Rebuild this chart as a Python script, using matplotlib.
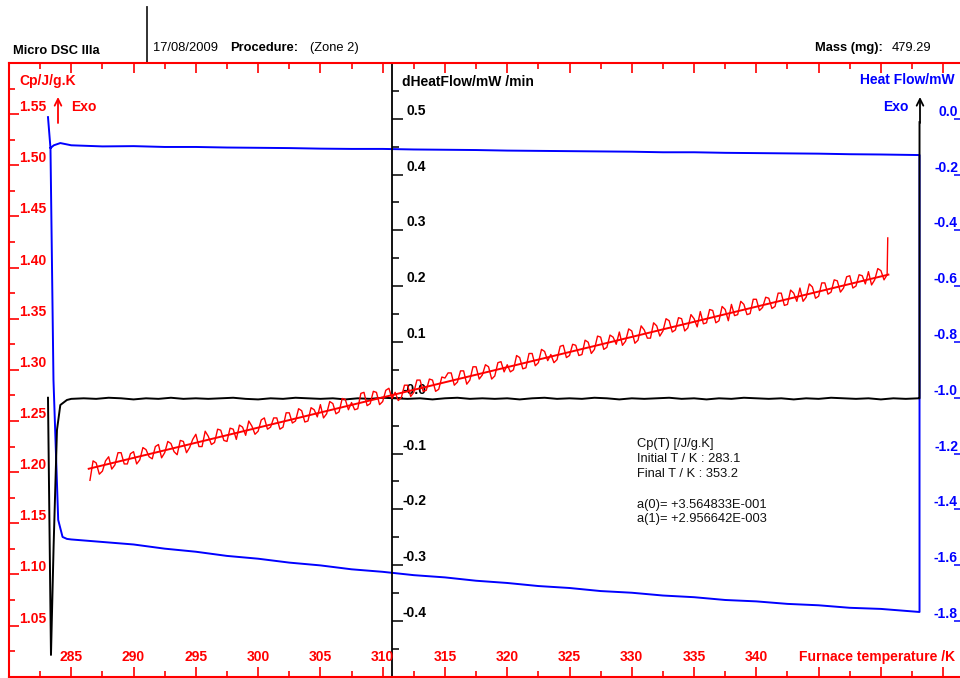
import matplotlib.pyplot as plt
import numpy as np
from matplotlib.lines import Line2D
from matplotlib.ticker import MultipleLocator

plt.rcParams['font.family'] = ['Liberation Sans', 'DejaVu Sans']

RED = '#ff0000'
BLUE = '#0000ff'

# axis ticks and labels
temp_ticks = [285, 290, 295, 300, 305, 310, 315, 320, 325, 330, 335, 340]
cp_ticks = [1.05, 1.10, 1.15, 1.20, 1.25, 1.30, 1.35, 1.40, 1.45, 1.50, 1.55]
dhf_ticks = [-0.4, -0.3, -0.2, -0.1, 0.0, 0.1, 0.2, 0.3, 0.4, 0.5]
dhf_labels = ['-0.4', '-0.3', '-0.2', '-0.1', '-0.0', '0.1', '0.2', '0.3', '0.4', '0.5']
hf_ticks = [-1.8, -1.6, -1.4, -1.2, -1.0, -0.8, -0.6, -0.4, -0.2, 0.0]
hf_labels = ['-1.8', '-1.6', '-1.4', '-1.2', '-1.0', '-0.8', '-0.6', '-0.4', '-0.2', '0.0']

# Cp data (red), one point every 0.25 K from 286.5 to 350.5 K
cp_temp = np.arange(286.5, 350.6, 0.25)
# values at 286.5, 287.0, 287.5 ...
cp_whole = [
    1.192, 1.209, 1.201, 1.215, 1.207, 1.219, 1.208, 1.220, 1.212, 1.222,
    1.213, 1.227, 1.219, 1.228, 1.217, 1.230, 1.224, 1.237, 1.225, 1.235,
    1.229, 1.241, 1.230, 1.242, 1.246, 1.236, 1.245, 1.240, 1.253, 1.244,
    1.253, 1.244, 1.258, 1.250, 1.260, 1.250, 1.261, 1.266, 1.257, 1.267,
    1.259, 1.271, 1.268, 1.262, 1.278, 1.267, 1.278, 1.269, 1.282, 1.278,
    1.273, 1.285, 1.278, 1.290, 1.280, 1.290, 1.281, 1.292, 1.297, 1.288,
    1.299, 1.290, 1.303, 1.295, 1.303, 1.294, 1.308, 1.305, 1.300, 1.312,
    1.302, 1.316, 1.307, 1.318, 1.315, 1.310, 1.324, 1.314, 1.324, 1.315,
    1.327, 1.320, 1.332, 1.322, 1.332, 1.337, 1.328, 1.338, 1.329, 1.339,
    1.331, 1.343, 1.338, 1.348, 1.339, 1.350, 1.341, 1.350, 1.357, 1.346,
    1.358, 1.348, 1.359, 1.364, 1.354, 1.364, 1.355, 1.369, 1.361, 1.370,
    1.362, 1.375, 1.364, 1.375, 1.380, 1.371, 1.381, 1.372, 1.385, 1.376,
    1.387, 1.380, 1.392, 1.382, 1.392, 1.396, 1.388, 1.397, 1.393,
]
# values at 286.75, 287.25, 287.75 ...
cp_half = [
    1.211, 1.198, 1.211, 1.203, 1.219, 1.208, 1.218, 1.208, 1.224, 1.215,
    1.225, 1.214, 1.230, 1.220, 1.231, 1.219, 1.232, 1.225, 1.240, 1.227,
    1.242, 1.231, 1.243, 1.232, 1.244, 1.250, 1.237, 1.251, 1.242, 1.253,
    1.242, 1.258, 1.248, 1.262, 1.249, 1.263, 1.254, 1.253, 1.269, 1.257,
    1.272, 1.261, 1.261, 1.277, 1.265, 1.279, 1.266, 1.280, 1.272, 1.270,
    1.285, 1.274, 1.290, 1.279, 1.291, 1.279, 1.293, 1.297, 1.285, 1.299,
    1.286, 1.303, 1.291, 1.305, 1.291, 1.307, 1.298, 1.298, 1.314, 1.301,
    1.316, 1.304, 1.320, 1.309, 1.307, 1.323, 1.312, 1.325, 1.314, 1.329,
    1.316, 1.333, 1.320, 1.334, 1.325, 1.324, 1.340, 1.326, 1.343, 1.331,
    1.346, 1.333, 1.350, 1.337, 1.351, 1.338, 1.354, 1.342, 1.345, 1.359,
    1.346, 1.362, 1.348, 1.353, 1.367, 1.354, 1.369, 1.358, 1.371, 1.360,
    1.375, 1.363, 1.378, 1.367, 1.367, 1.384, 1.370, 1.385, 1.374, 1.388,
    1.376, 1.391, 1.380, 1.393, 1.384, 1.383, 1.399, 1.388,
]
cp_end_temp = [350.5, 350.55]
cp_end_values = [1.393, 1.429]

# linear fit of Cp
fit_temp = [286.4, 350.6]
fit_cp = [1.2033, 1.3931]

# dHeatFlow data (black)
dhf_start_temp = [283.13, 283.37, 283.58, 283.85, 284.12, 284.65]
dhf_start = [0.000, -0.461, -0.267, -0.058, -0.013, -0.004]
dhf_flat_temp = np.arange(285, 354, 1)
dhf_flat = [
    -0.002, -0.001, -0.002, 0.000, -0.001, -0.003, -0.001, -0.002, 0.000, -0.002,
    -0.001, -0.002, -0.001, 0.000, -0.002, -0.003, -0.001, -0.002, 0.000, -0.001,
    -0.002, -0.001, -0.003, -0.001, -0.002, 0.000, -0.001, -0.002, -0.001, -0.003,
    -0.001, 0.000, -0.002, -0.001, -0.002, -0.001, -0.003, -0.001, 0.000, -0.002,
    -0.001, -0.002, 0.000, -0.001, -0.003, -0.001, -0.002, -0.001, 0.000, -0.002,
    -0.001, -0.003, -0.001, -0.002, 0.000, -0.001, -0.002, -0.001, -0.003, -0.001,
    -0.002, 0.000, -0.001, -0.002, -0.001, -0.003, -0.001, -0.002, -0.001,
]
dhf_end_temp = [353.1, 353.1]
dhf_end = [-0.001, 0.494]

# Heat flow data (blue): upper branch left to right, lower branch right to left
hf_upper_temp = [283.13, 283.33, 283.6, 284.12, 285, 287.5, 290, 292.5, 295, 297.5,
                 300, 302.5, 305, 307.5, 310, 312.5, 315, 317.5, 320, 322.5, 325,
                 327.5, 330, 332.5, 335, 337.5, 340, 342.5, 345, 347.5, 350, 353.1]
hf_upper = [0.006, -0.105, -0.095, -0.087, -0.095, -0.099, -0.098, -0.101, -0.101, -0.103,
            -0.104, -0.105, -0.107, -0.108, -0.108, -0.110, -0.111, -0.112, -0.114, -0.115,
            -0.116, -0.117, -0.118, -0.120, -0.120, -0.122, -0.123, -0.124, -0.125, -0.127,
            -0.128, -0.130]
hf_lower_temp = [353.1, 350, 347.5, 345, 342.5, 340, 337.5, 335, 332.5, 330, 327.5, 325,
                 322.5, 320, 317.5, 315, 312.5, 310, 307.5, 305, 302.5, 300, 297.5, 295,
                 292.5, 290, 287.5, 285, 284.65, 284.3, 283.95, 283.57, 283.33]
hf_lower = [-1.768, -1.757, -1.753, -1.744, -1.739, -1.730, -1.725, -1.715, -1.709, -1.699,
            -1.693, -1.682, -1.675, -1.664, -1.656, -1.644, -1.636, -1.624, -1.615, -1.601,
            -1.591, -1.577, -1.567, -1.552, -1.541, -1.526, -1.517, -1.508, -1.506, -1.499,
            -1.438, -0.936, -0.105]

fig = plt.figure(figsize=(9.6, 6.78), dpi=100)
ax = fig.add_axes([9 / 960, 1.3 / 678, 951 / 960, 613.7 / 678])
axb = ax.twinx()
axh = ax.twinx()
ax.set_zorder(3)
axb.set_zorder(2)
axh.set_zorder(1)
ax.patch.set_visible(False)

# blue heat flow
axh.plot(hf_upper_temp + hf_lower_temp, hf_upper + hf_lower, color=BLUE, linewidth=1.4)
axh.set_ylim(-2.0, 0.2)

# black dHeatFlow
axb.plot(dhf_start_temp + list(dhf_flat_temp) + dhf_end_temp,
         dhf_start + dhf_flat + dhf_end, color='black', linewidth=1.4)
axb.set_ylim(-0.5, 0.6)

# red Cp data (whole and half steps merged in temperature order) and fit
cp_values = np.empty(len(cp_temp))
cp_values[0::2] = cp_whole
cp_values[1::2] = cp_half
ax.plot(cp_temp, cp_values, color=RED, linewidth=1.0)
ax.plot(cp_end_temp, cp_end_values, color=RED, linewidth=1.0)
ax.plot(fit_temp, fit_cp, color=RED, linewidth=1.4)
ax.set_xlim(280, 356.35)
ax.set_ylim(1.0, 1.6)

# main axes frame (red)
for side in ['left', 'top', 'bottom']:
    ax.spines[side].set_color(RED)
    ax.spines[side].set_linewidth(1.5)
ax.spines['right'].set_visible(False)
ax.xaxis.set_major_locator(MultipleLocator(5))
ax.xaxis.set_minor_locator(MultipleLocator(2.5))
ax.yaxis.set_major_locator(MultipleLocator(0.05))
ax.yaxis.set_minor_locator(MultipleLocator(0.025))
ax.tick_params(axis='both', which='both', direction='in', color=RED, width=1.2,
               labelbottom=False, labelleft=False, top=True, bottom=True, left=True)
ax.tick_params(axis='both', which='major', length=7)
ax.tick_params(axis='both', which='minor', length=4.5)

# middle axis (black)
for side in ['right', 'top', 'bottom']:
    axb.spines[side].set_visible(False)
axb.spines['left'].set_visible(True)
axb.spines['left'].set_position(('data', 310.76))
axb.spines['left'].set_linewidth(1.3)
axb.yaxis.tick_left()
axb.yaxis.set_major_locator(MultipleLocator(0.1))
axb.yaxis.set_minor_locator(MultipleLocator(0.05))
axb.tick_params(axis='y', which='both', direction='in', width=1.1, labelleft=False)
axb.tick_params(axis='y', which='major', length=8)
axb.tick_params(axis='y', which='minor', length=5)

# right axis (blue)
for side in ['left', 'right', 'top', 'bottom']:
    axh.spines[side].set_visible(False)
axh.set_yticks(hf_ticks)
axh.tick_params(axis='y', direction='in', length=4, width=1.1, color=BLUE, labelright=False)

lbl = dict(fontsize=10, fontweight='bold', textcoords='offset pixels', va='center')

# tick labels placed inside the frame, a little above each tick
for v in cp_ticks:
    ax.annotate('%.2f' % v, xy=(0, v), xycoords=ax.get_yaxis_transform(),
                xytext=(10, 7), ha='left', color=RED, **lbl)
for t in temp_ticks:
    ax.annotate(str(t), xy=(t, 0), xycoords=ax.get_xaxis_transform(),
                xytext=(0, 20), ha='center', color=RED, **lbl)
for v, s in zip(dhf_ticks, dhf_labels):
    axb.annotate(s, xy=(310.76, v), xycoords='data',
                 xytext=(34, 8), ha='right', color='black', **lbl)
for v, s in zip(hf_ticks, hf_labels):
    axh.annotate(s, xy=(1, v), xycoords=axh.get_yaxis_transform(),
                 xytext=(-2, 7), ha='right', color=BLUE, **lbl)


def px(x, y):
    return x / 960, 1 - y / 678


# axis titles
fig.text(*px(19, 81.5), 'Cp/J/g.K', color=RED, fontsize=10, fontweight='bold', va='center')
fig.text(*px(71, 107), 'Exo', color=RED, fontsize=10, fontweight='bold', va='center')
fig.text(*px(402, 81.5), 'dHeatFlow/mW /min', color='black', fontsize=10,
         fontweight='bold', va='center')
fig.text(*px(955, 80.5), 'Heat Flow/mW', color=BLUE, fontsize=10, fontweight='bold',
         va='center', ha='right')
fig.text(*px(908, 107), 'Exo', color=BLUE, fontsize=10, fontweight='bold',
         va='center', ha='right')
fig.text(*px(955, 657), 'Furnace temperature /K', color=RED, fontsize=10,
         fontweight='bold', va='center', ha='right')

# Exo arrows
arrow = dict(arrowstyle='->', mutation_scale=12, shrinkA=0, shrinkB=0, linewidth=1.3)
fig.add_artist(plt.Annotation('', xy=px(58, 97), xytext=px(58, 123), xycoords='figure fraction',
                              arrowprops=dict(color=RED, **arrow)))
fig.add_artist(plt.Annotation('', xy=px(920, 97), xytext=px(920, 123), xycoords='figure fraction',
                              arrowprops=dict(color='black', **arrow)))

# header
fig.text(*px(13, 51), 'Micro DSC IIIa', fontsize=9.3, fontweight='bold', va='center')
fig.text(*px(153, 48), '17/08/2009', fontsize=9.3, va='center')
fig.text(*px(230, 48), 'Procedure:', fontsize=9.3, fontweight='bold', va='center')
fig.text(*px(310, 48), '(Zone 2)', fontsize=9.3, va='center')
fig.text(*px(815, 48), 'Mass (mg):', fontsize=9.3, fontweight='bold', va='center')
fig.text(*px(892, 48), '479.29', fontsize=9.3, va='center')
x0, y0 = px(147, 7)
x1, y1 = px(147, 62)
fig.add_artist(Line2D([x0, x1], [y0, y1], color='#222222', linewidth=1.3))

# fit information
info = [('Cp(T) [/J/g.K]', 444), ('Initial T / K : 283.1', 459),
        ('Final T / K : 353.2', 474), ('a(0)= +3.564833E-001', 505),
        ('a(1)= +2.956642E-003', 519)]
for s, y in info:
    fig.text(*px(637, y), s, fontsize=9.3, va='center', color='#111111')

plt.savefig('out.png', dpi=100)
